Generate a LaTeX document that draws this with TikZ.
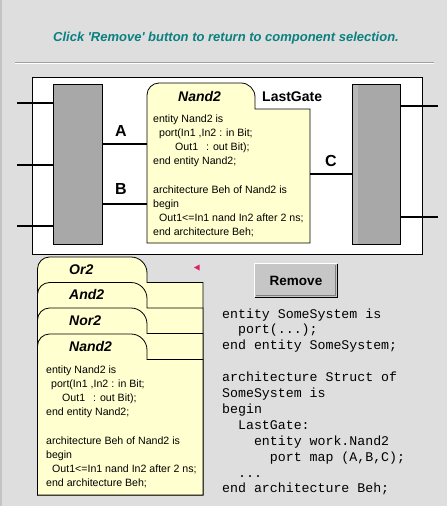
\documentclass[tikz,border=0pt]{standalone}
\usepackage{fontspec}
\setmainfont{Liberation Sans}
\setmonofont{Liberation Mono}
\definecolor{bgc}{HTML}{DEDEDE}
\definecolor{titlec}{HTML}{0A8080}
\definecolor{blockgray}{HTML}{A8A8A8}
\definecolor{stripec}{HTML}{B8B8B8}
\definecolor{cardyellow}{HTML}{FFFFD0}
\definecolor{btngray}{HTML}{C6C6C6}
\definecolor{markc}{HTML}{E0206A}
\definecolor{edgec}{HTML}{C4C4C4}
\begin{document}
\begin{tikzpicture}[x=1pt,y=-1pt,
  wire/.style={line width=2pt, black},
  thinline/.style={draw=black, line width=0.8pt},
  gblock/.style={draw=black, line width=0.8pt, fill=blockgray, minimum width=49, minimum height=160, inner sep=0},
  cardshape/.style={draw=black, line width=0.8pt, fill=cardyellow},
  gatetitle/.style={font=\fontsize{14}{16}\selectfont\bfseries\itshape, inner sep=0, anchor=base west},
  portlabel/.style={font=\fontsize{16}{18}\selectfont\bfseries, inner sep=0, anchor=base},
  codetext/.style={font=\fontsize{10.6}{14.2}\selectfont, inner sep=0, anchor=base west},
  monotext/.style={font=\ttfamily\fontsize{13.25}{15.9}\selectfont, inner sep=0, anchor=base west},
  titletext/.style={font=\fontsize{13}{16}\selectfont\bfseries\itshape, text=titlec, inner sep=0, anchor=base}
]
\useasboundingbox (0,0) rectangle (447,506);
\fill[bgc] (0,0) rectangle (447,506);
\draw[edgec, line width=1.5pt] (1,0) -- (1,506);

% title
\node[titletext] (title) at (226,41.7) {Click \textquotesingle Remove\textquotesingle\ button to return to component selection.};
\draw[gray!75, line width=1pt] (15,62) -- (434,62);
\draw[white, line width=1pt] (15,63.6) -- (434,63.6);

% white panel
\node[thinline, fill=white, minimum width=390, minimum height=177, inner sep=0, anchor=north west] (panel) at (32,77) {};

% gray blocks
\node[gblock] (L) at (77.5,164) {};
\node[gblock, minimum width=48] (R) at (376,164) {};
\fill[stripec] (353,84.5) rectangle (357.5,243.5);

% stubs
\coordinate (l1) at (17,103);
\coordinate (l2) at (17,165);
\coordinate (l3) at (17,226);
\coordinate (r1) at (438,106);
\coordinate (r2) at (438,217);
\draw[wire] (l1) -- (l1 -| L.west);
\draw[wire] (l2) -- (l2 -| L.west);
\draw[wire] (l3) -- (l3 -| L.west);
\draw[wire] (r1 -| R.east) -- (r1);
\draw[wire] (r2 -| R.east) -- (r2);

% Nand2 card in panel
\filldraw[cardshape] (147,243) -- (147,95) .. controls (147,88.4) and (152.4,83) .. (159,83)
  -- (241,83) .. controls (248.7,83) and (255,89.3) .. (255,97) -- (255,109) -- (310,109) -- (310,243) -- cycle;
\coordinate (pA) at (147,144);
\coordinate (pB) at (147,204);
\coordinate (pC) at (310,174);
\draw[wire] (pA -| L.east) -- (pA);
\draw[wire] (pB -| L.east) -- (pB);
\draw[wire] (pC) -- (pC -| R.west);
\node[portlabel] (labA) at (121,136.6) {A};
\node[portlabel] (labB) at (121,194.6) {B};
\node[portlabel] (labC) at (331,166.2) {C};
\node[gatetitle] (topname) at (178,101) {Nand2};
\node[gatetitle, font=\fontsize{14}{16}\selectfont\bfseries] (lastgate) at (262,101) {LastGate};
\node[codetext] (topcode) at (153,122.2) {\begin{tabular}[t]{@{}l@{}}entity Nand2 is\\
\hspace*{6pt}port(In1 ,In2 : in Bit;\\
\hspace*{22pt}Out1\hspace*{8pt}: out Bit);\\
end entity Nand2;\\
\\
architecture Beh of Nand2 is\\
begin\\
\hspace*{6pt}Out1<=In1 nand In2 after 2 ns;\\
end architecture Beh;\end{tabular}};

% stacked cards
\foreach \T/\nm [count=\i] in {257/Or2, 282.5/And2, 308/Nor2, 334/Nand2} {
  \filldraw[cardshape] (37.5,495) -- (37.5,\T+12) .. controls (37.5,\T+5.4) and (42.9,\T) .. (49.5,\T)
    -- (131,\T) .. controls (139.8,\T) and (147,\T+7.2) .. (147,\T+16) -- (147,\T+25.5) -- (203,\T+25.5) -- (203,495) -- cycle;
  \node[gatetitle] (tab\i) at (69,\T+17) {\nm};
}
\node[codetext] (botcode) at (46,373.3) {\begin{tabular}[t]{@{}l@{}}entity Nand2 is\\
\hspace*{5pt}port(In1 ,In2 : in Bit;\\
\hspace*{16pt}Out1\hspace*{8pt}: out Bit);\\
end entity Nand2;\\
\\
architecture Beh of Nand2 is\\
begin\\
\hspace*{6pt}Out1<=In1 nand In2 after 2 ns;\\
end architecture Beh;\end{tabular}};

% marker
\fill[markc] (194,267.5) -- (199.5,264.5) -- (199.5,270.5) -- cycle;

% button
\node[fill=btngray, minimum width=82, minimum height=33, inner sep=0, font=\fontsize{13.5}{16}\selectfont\bfseries] (remove) at (296,280.5) {Remove};
\draw[white, line width=1pt] (remove.south west) -- (remove.north west) -- (remove.north east);
\draw[black, line width=1.2pt] (remove.north east) -- (remove.south east) -- (remove.south west);
\draw[gray, line width=1pt] ([shift={(-1.5,1.5)}]remove.north east) -- ([shift={(-1.5,-1.5)}]remove.south east) -- ([shift={(1.5,-1.5)}]remove.south west);

% VHDL code
\node[monotext] (vhdl) at (222,318) {\begin{tabular}[t]{@{}l@{}}entity SomeSystem is\\
\phantom{xx}port(...);\\
end entity SomeSystem;\\
\\
architecture Struct of\\
SomeSystem is\\
begin\\
\phantom{xx}LastGate:\\
\phantom{xxxx}entity work.Nand2\\
\phantom{xxxxxx}port map (A,B,C);\\
\phantom{xx}...\\
end architecture Beh;\end{tabular}};
\end{tikzpicture}
\end{document}
